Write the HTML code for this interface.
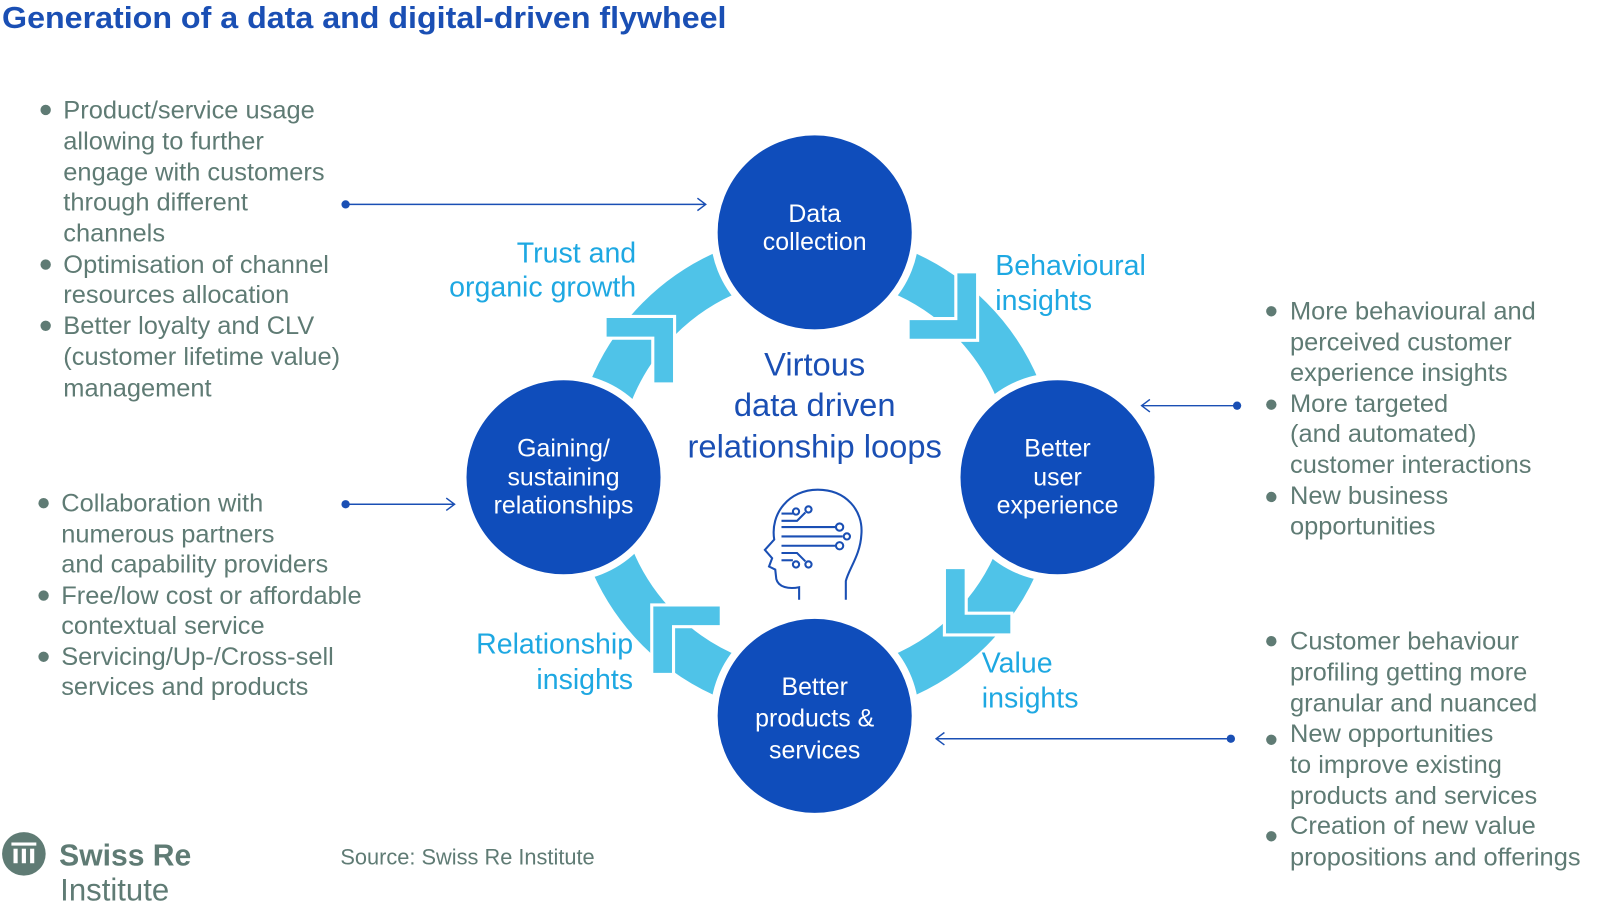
<!DOCTYPE html>
<html><head><meta charset="utf-8"><style>
html,body{margin:0;padding:0;background:#fff;}
svg{display:block;}
text{font-family:"Liberation Sans",sans-serif;}
.g{fill:#5f7b74;font-size:24.5px;}
.c{fill:#1ea8e2;font-size:27.5px;}
.w{fill:#fff;font-size:24px;text-anchor:middle;}
</style></head><body>
<svg width="1619" height="912" viewBox="0 0 1560 879" preserveAspectRatio="none" xmlns="http://www.w3.org/2000/svg">
<text x="2" y="27" font-size="29" font-weight="bold" fill="#1a4fb4" textLength="698" lengthAdjust="spacingAndGlyphs">Generation of a data and digital-driven flywheel</text>

<!-- ring -->
<circle cx="785" cy="457" r="212" fill="none" stroke="#4fc3e8" stroke-width="44"/>
<!-- chevrons -->
<g fill="#4fc3e8" stroke="#fff" stroke-width="3">
<path d="M942,328 L875,328 L875,307 L921,307 L921,262 L942,262 Z"/>
<path d="M650,305 L650,370 L629,370 L629,326 L583,326 L583,305 Z"/>
<path d="M910,612 L910,547 L931,547 L931,591 L975,591 L975,612 Z"/>
<path d="M628,583 L695,583 L695,604 L649,604 L649,650 L628,650 Z"/>
</g>
<!-- circles -->
<g fill="#0f4dbb" stroke="#fff" stroke-width="7">
<circle cx="785" cy="224" r="97"/>
<circle cx="1019" cy="460" r="97"/>
<circle cx="785" cy="690" r="97"/>
<circle cx="543" cy="460" r="97"/>
</g>
<text class="w" x="785" y="214">Data</text>
<text class="w" x="785" y="241">collection</text>
<text class="w" x="1019" y="440">Better</text>
<text class="w" x="1019" y="468">user</text>
<text class="w" x="1019" y="495">experience</text>
<text class="w" x="785" y="670">Better</text>
<text class="w" x="785" y="700">products &amp;</text>
<text class="w" x="785" y="731">services</text>
<text class="w" x="543" y="440">Gaining/</text>
<text class="w" x="543" y="468">sustaining</text>
<text class="w" x="543" y="495">relationships</text>

<g fill="#1a4fb4" font-size="31.5" text-anchor="middle">
<text x="785" y="362">Virtous</text>
<text x="785" y="401">data driven</text>
<text x="785" y="441">relationship loops</text>
</g>

<!-- cyan labels -->
<text class="c" x="613" y="253" text-anchor="end">Trust and</text>
<text class="c" x="613" y="286" text-anchor="end">organic growth</text>
<text class="c" x="959" y="265">Behavioural</text>
<text class="c" x="959" y="299">insights</text>
<text class="c" x="610" y="630" text-anchor="end">Relationship</text>
<text class="c" x="610" y="664" text-anchor="end">insights</text>
<text class="c" x="946" y="648">Value</text>
<text class="c" x="946" y="682">insights</text>

<!-- head icon -->
<g fill="none" stroke="#1a4fb4" stroke-width="2">
<path d="M770,578 L770,566 C760,568 750,566 748,558 L747,549 L741,546 L744,538 L737,530 L746,520 C742,495 760,472 788,472 C815,472 832,492 830,515 C829,535 818,548 815,560 L815,578"/>
<path d="M753,502 L768,502 L776,494"/><circle cx="779" cy="491" r="3"/>
<path d="M753,495 L764,495"/><circle cx="767" cy="493" r="3"/>
<path d="M753,508 L805,508"/><circle cx="809" cy="508" r="3.5"/>
<path d="M753,517 L812,517"/><circle cx="816" cy="517" r="3"/>
<path d="M753,526 L805,526"/><circle cx="809" cy="526" r="3.5"/>
<path d="M753,533 L768,533 L776,541"/><circle cx="779" cy="544" r="3"/>
<path d="M753,540 L764,540"/><circle cx="767" cy="544" r="3"/>
</g>

<!-- connectors -->
<g stroke="#1a4fb4" stroke-width="1.4" fill="none">
<path d="M333,197 L680,197 M672,191 L680,197 L672,203"/>
<path d="M333,486 L438,486 M430,480 L438,486 L430,492"/>
<path d="M1192,391 L1100,391 M1108,385 L1100,391 L1108,397"/>
<path d="M1186,712 L902,712 M910,706 L902,712 L910,718"/>
</g>
<g fill="#1a4fb4">
<circle cx="333" cy="197" r="4"/><circle cx="333" cy="486" r="4"/>
<circle cx="1192" cy="391" r="4"/><circle cx="1186" cy="712" r="4"/>
</g>

<g fill="#5f7b74">
<circle cx="44" cy="106" r="5"/><circle cx="44" cy="255" r="5"/><circle cx="44" cy="314" r="5"/>
<circle cx="42" cy="485" r="5"/><circle cx="42" cy="574" r="5"/><circle cx="42" cy="633" r="5"/>
<circle cx="1225" cy="300" r="5"/><circle cx="1225" cy="390" r="5"/><circle cx="1225" cy="479" r="5"/>
<circle cx="1225" cy="618" r="5"/><circle cx="1225" cy="713" r="5"/><circle cx="1225" cy="806" r="5"/>
</g>
<g class="g">
<text x="61" y="114">Product/service usage</text>
<text x="61" y="144">allowing to further</text>
<text x="61" y="174">engage with customers</text>
<text x="61" y="203">through different</text>
<text x="61" y="233">channels</text>
<text x="61" y="263">Optimisation of channel</text>
<text x="61" y="292">resources allocation</text>
<text x="61" y="322">Better loyalty and CLV</text>
<text x="61" y="352">(customer lifetime value)</text>
<text x="61" y="382">management</text>
<text x="59" y="493">Collaboration with</text>
<text x="59" y="523">numerous partners</text>
<text x="59" y="552">and capability providers</text>
<text x="59" y="582">Free/low cost or affordable</text>
<text x="59" y="611">contextual service</text>
<text x="59" y="641">Servicing/Up-/Cross-sell</text>
<text x="59" y="670">services and products</text>
<text x="1243" y="308">More behavioural and</text>
<text x="1243" y="338">perceived customer</text>
<text x="1243" y="367">experience insights</text>
<text x="1243" y="397">More targeted</text>
<text x="1243" y="426">(and automated)</text>
<text x="1243" y="456">customer interactions</text>
<text x="1243" y="486">New business</text>
<text x="1243" y="515">opportunities</text>
<text x="1243" y="626">Customer behaviour</text>
<text x="1243" y="656">profiling getting more</text>
<text x="1243" y="686">granular and nuanced</text>
<text x="1243" y="715">New opportunities</text>
<text x="1243" y="745">to improve existing</text>
<text x="1243" y="775">products and services</text>
<text x="1243" y="804">Creation of new value</text>
<text x="1243" y="834">propositions and offerings</text>
</g>

<!-- logo -->
<circle cx="23" cy="823" r="21" fill="#5f7b74"/>
<g fill="#fff"><rect x="11" y="812" width="24" height="3"/><rect x="13" y="818" width="4" height="14"/><rect x="21" y="818" width="4" height="14"/><rect x="29" y="818" width="4" height="14"/></g>
<text x="57" y="834" font-size="29" font-weight="bold" fill="#5f7b74">Swiss Re</text>
<text x="58" y="868" font-size="30" fill="#5f7b74">Institute</text>
<text x="328" y="833" font-size="21" fill="#5f7b74">Source: Swiss Re Institute</text>
</svg>
</body></html>
